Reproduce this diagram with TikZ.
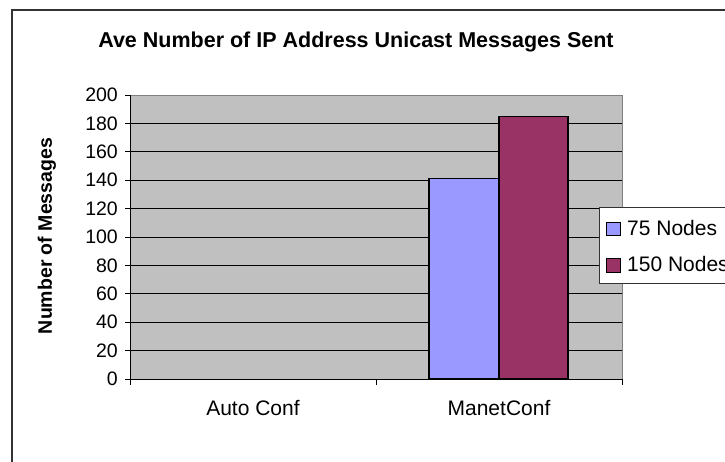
\documentclass[tikz,border=0pt]{standalone}
\usepackage{fontspec}
\setmainfont{Liberation Sans}
\definecolor{plotgray}{RGB}{192,192,192}
\definecolor{barblue}{RGB}{153,153,255}
\definecolor{barred}{RGB}{153,51,102}
\tikzset{
  gridline/.style={black,line width=0.8pt},
  bar/.style={draw=black,line width=1.4pt},
  ticklabel/.style={anchor=east,font=\fontsize{19.5}{19.5}\selectfont,inner sep=0pt},
  catlabel/.style={font=\fontsize{21}{21}\selectfont,inner sep=0pt},
  legendlabel/.style={anchor=west,font=\fontsize{21}{21}\selectfont,inner sep=0pt}
}
\begin{document}
\begin{tikzpicture}[x=1pt,y=-1pt]
\useasboundingbox (0,0) rectangle (725,461);
\clip (0,0) rectangle (725,461);
\fill[white] (0,0) rectangle (725,461);
% chart frame, runs off the right and bottom edges
\draw[line width=1.2pt,black!80] (12,480) |- (740,10);
\node[font=\bfseries\fontsize{21.5}{21.5}\selectfont] (title) at (356,42) {Ave Number of IP Address Unicast Messages Sent};
\node[rotate=90,font=\bfseries\fontsize{19.5}{19.5}\selectfont] (ytitle) at (47,236) {Number of Messages};
\begin{scope}[shift={(130,379)},x=1pt,y=1.42pt]
\fill[plotgray] (0,0) rectangle (492,200);
\foreach \v in {20,40,...,180}
  \draw[gridline] (0,\v) -- (492,\v);
\draw[gray,line width=1pt] (0,200) -- (492,200) -- (492,0);
% bars
\draw[bar,fill=barblue] (299,0) rectangle (369,141);
\draw[bar,fill=barred] (369,0) rectangle (438,185);
% axes
\draw[line width=1pt] (0,200) -- (0,0) -- (492,0);
\foreach \v in {0,20,...,200} {
  \draw[line width=0.8pt] (-5,\v) -- (0,\v);
  \node[ticklabel] (t\v) at (-12,\v) {\v};
}
\foreach \x in {0,246,492}
  \draw[line width=0.8pt] (\x,0) -- (\x,-4);
\node[catlabel] (auto) at (123,-20.4) {Auto Conf};
\node[catlabel] (manet) at (369,-20.4) {ManetConf};
\end{scope}
% legend
\draw[line width=0.8pt,black!80,fill=white] (599,207) rectangle (760,283);
\draw[line width=1pt,fill=barblue] (606,222) rectangle (620,235);
\node[legendlabel] (leg75) at (627,228) {75 Nodes};
\draw[line width=1pt,fill=barred] (606,258) rectangle (620,272);
\node[legendlabel] (leg150) at (627,264) {150 Nodes};
\end{tikzpicture}
\end{document}
